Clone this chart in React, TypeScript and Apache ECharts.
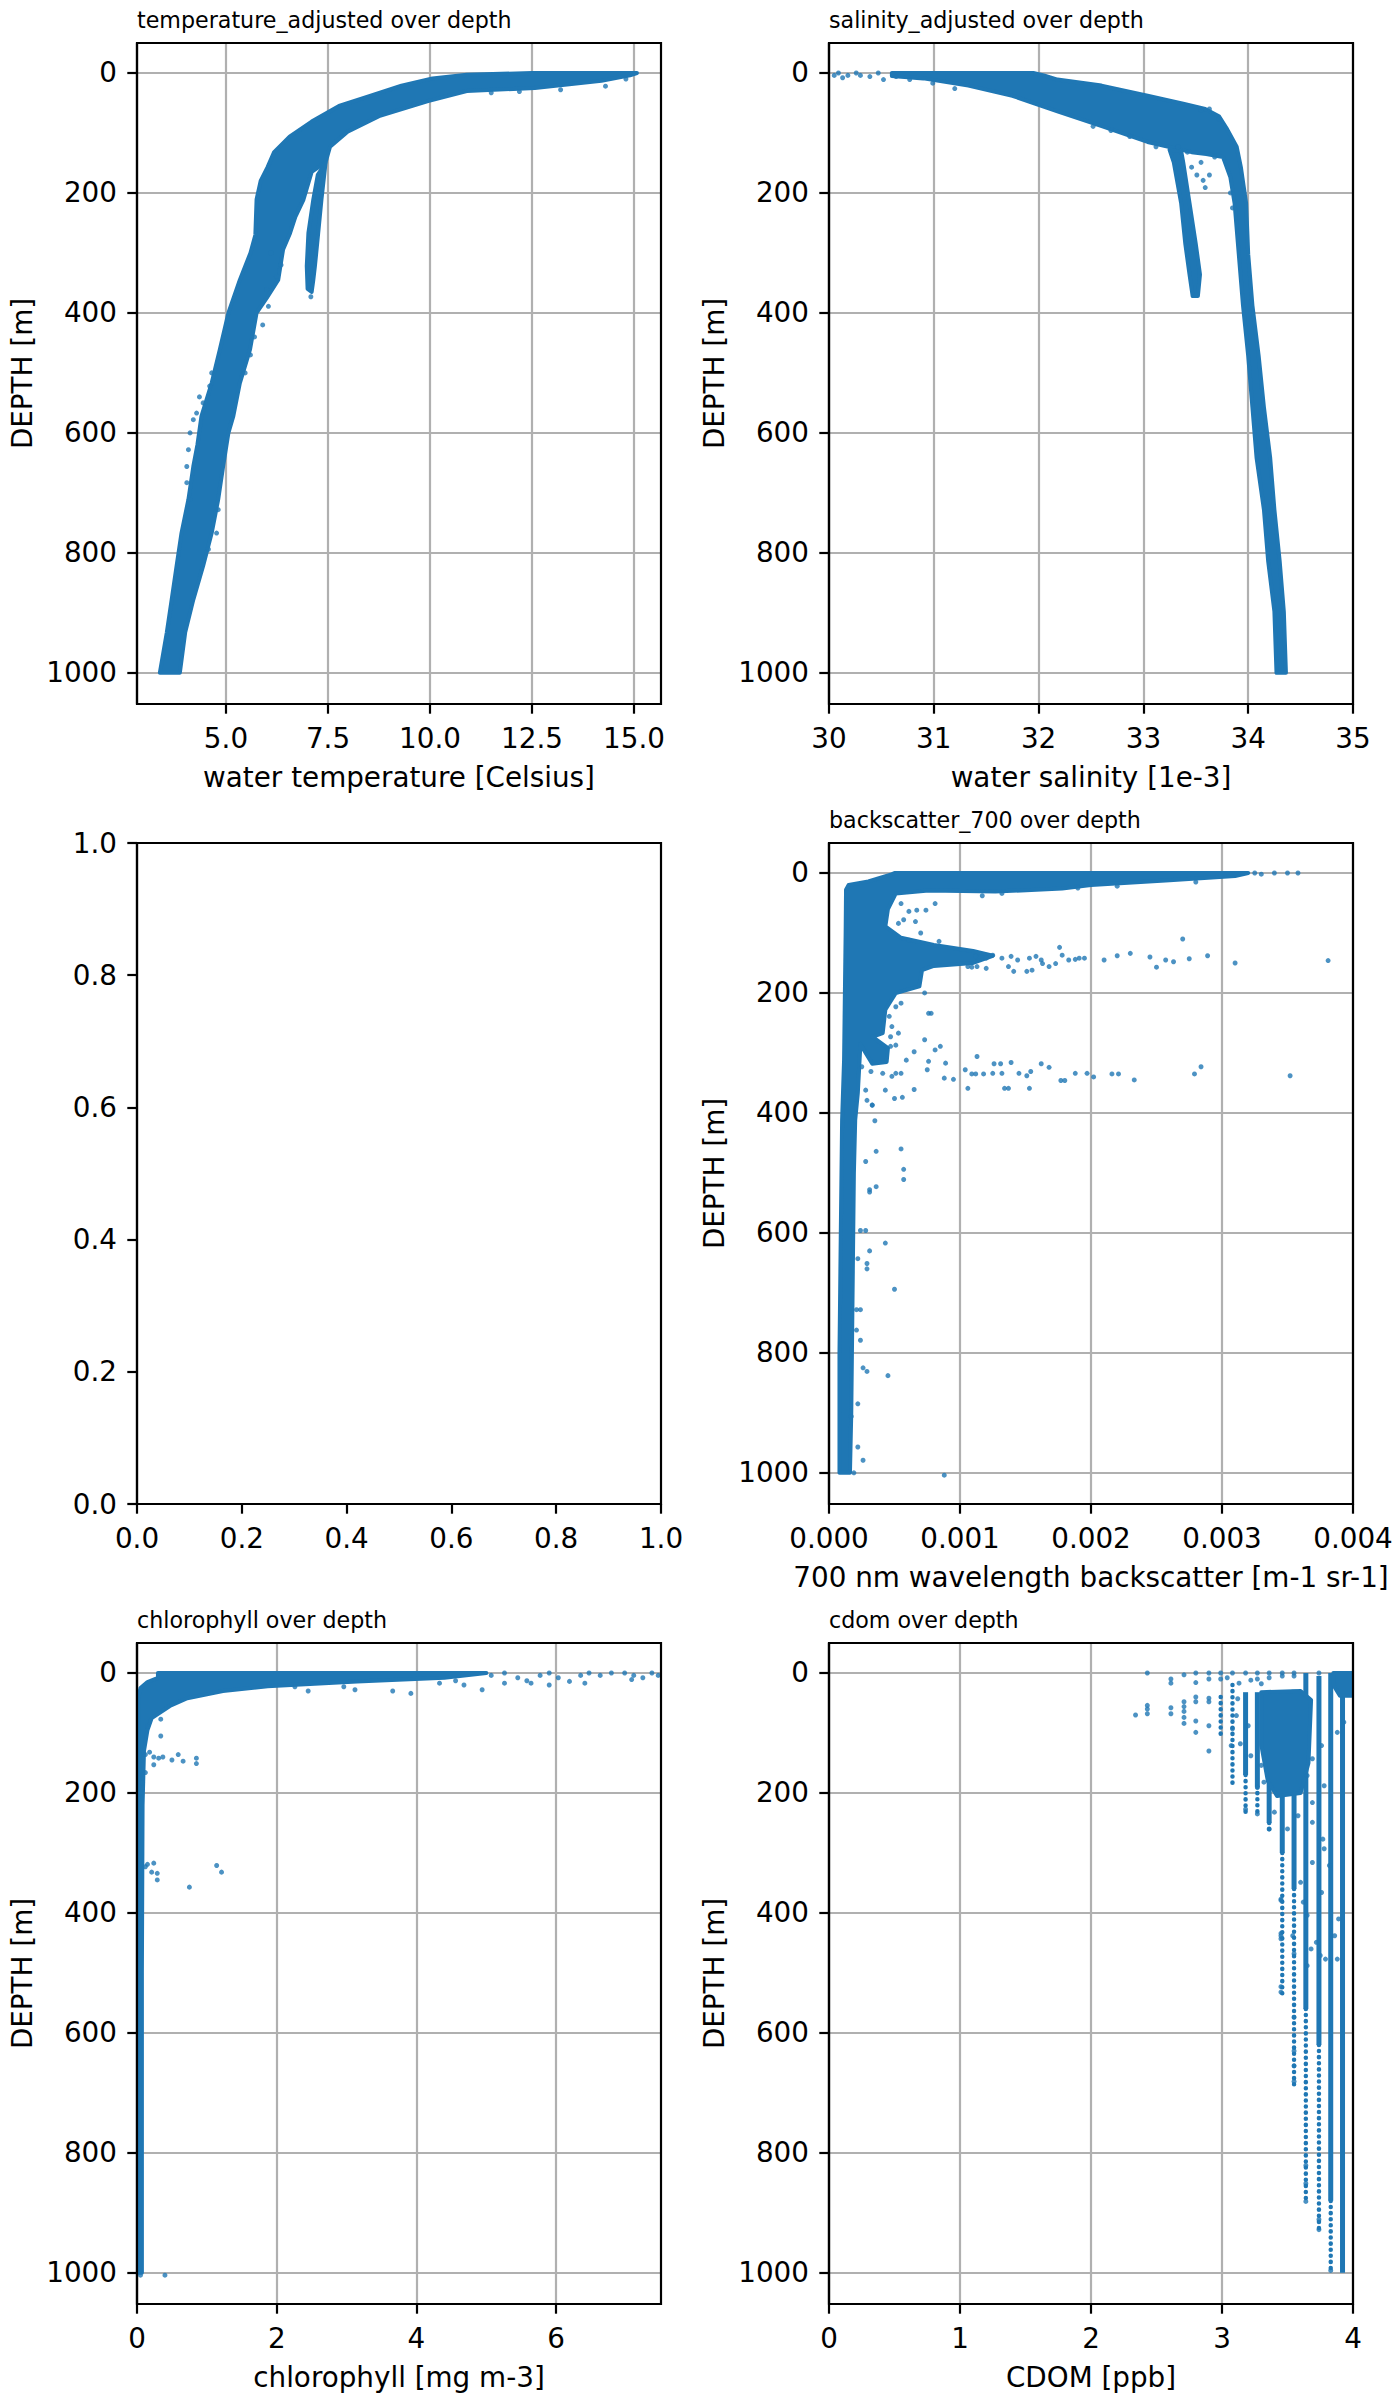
import { useEffect, useRef } from 'react'
import * as echarts from 'echarts'

const BLUE = '#1f77b4'
const FONT = 'DejaVu Sans'

// tick values
const depthTicks = [0, 200, 400, 600, 800, 1000]
const tempTicks = [5, 7.5, 10, 12.5, 15]
const salTicks = [30, 31, 32, 33, 34, 35]
const unitTicks = [0, 0.2, 0.4, 0.6, 0.8, 1]
const bsTicks = [0, 0.001, 0.002, 0.003, 0.004]
const chlTicks = [0, 2, 4, 6]
const cdomTicks = [0, 1, 2, 3, 4]

// temperature (Celsius, depth m): dense band outlines + loose points
const tempBand = [
  [3.38, 1000], [3.55, 933], [3.67, 878], [3.79, 822], [3.91, 767], [4.08, 711], [4.2, 656], [4.3, 620],
  [4.4, 572], [4.65, 517], [4.85, 461], [5.06, 400], [5.34, 345], [5.6, 300], [5.72, 270], [5.75, 211],
  [5.85, 180], [6.02, 157], [6.18, 132], [6.56, 106], [7.1, 81], [7.77, 55], [8.53, 38], [9.3, 21],
  [10.06, 9], [10.9, 3], [12.5, 0], [15.07, 0], [14.9, 4], [14.2, 13], [12.57, 25], [10.9, 30], [9.95, 47],
  [8.75, 72], [7.98, 98], [7.55, 123], [7.44, 149], [7.1, 165], [6.9, 211], [6.7, 240], [6.57, 267],
  [6.4, 294], [6.28, 345], [6.0, 375], [5.75, 400], [5.59, 461], [5.34, 517], [5.18, 572], [5.06, 600],
  [4.93, 656], [4.81, 711], [4.65, 767], [4.44, 822], [4.2, 878], [4.0, 933], [3.87, 1000],
]
const tempBranch = [
  [7.44, 150], [7.34, 211], [7.26, 267], [7.18, 322], [7.14, 345], [7.1, 365], [7.0, 360], [6.98, 322],
  [7.02, 267], [7.14, 211], [7.25, 170],
]
const tempDots = [
  [4.44, 550], [4.28, 567], [4.2, 578], [4.12, 600], [4.08, 628], [4.04, 656], [4.04, 683], [4.12, 711],
  [4.65, 500], [4.6, 522], [4.35, 540], [6.0, 361], [6.04, 389], [6.24, 339], [5.47, 500], [4.81, 728],
  [4.77, 767], [4.57, 794], [5.9, 420], [5.7, 440], [6.1, 300], [6.35, 320], [5.6, 470], [12.19, 31],
  [14.3, 22], [13.2, 28], [11.5, 33], [9.6, 52], [14.8, 10], [7.08, 373],
]

// salinity (1e-3, depth m)
const salBand = [
  [30.6, 0], [31.95, 0], [32.05, 4], [32.18, 11], [32.6, 21], [33.04, 38], [33.38, 51], [33.59, 60],
  [33.72, 72], [33.8, 94], [33.89, 123], [33.93, 157], [33.98, 217], [34.0, 302], [34.04, 387], [34.1, 472],
  [34.15, 557], [34.21, 642], [34.25, 728], [34.3, 813], [34.34, 898], [34.36, 1000], [34.27, 1000],
  [34.25, 898], [34.19, 813], [34.15, 728], [34.08, 642], [34.04, 557], [34.0, 472], [33.95, 387],
  [33.91, 302], [33.87, 217], [33.83, 174], [33.76, 140], [33.6, 135], [33.46, 132], [33.04, 115],
  [32.61, 89], [32.18, 64], [31.75, 38], [31.33, 21], [30.9, 9], [30.6, 5],
]
const salBranch = [
  [33.25, 128], [33.36, 130], [33.38, 149], [33.44, 217], [33.5, 285], [33.54, 336], [33.52, 372],
  [33.47, 372], [33.44, 336], [33.4, 285], [33.36, 217], [33.29, 149],
]
const salDots = [
  [30.05, 4], [30.09, 0], [30.18, 4], [30.3, 4], [30.39, 6], [30.47, 0], [30.52, 11], [30.26, 0],
  [30.13, 8], [30.64, 6], [30.77, 11], [30.99, 17], [31.2, 26], [33.59, 191], [33.57, 179], [33.51, 170],
  [33.46, 157], [33.63, 170], [33.55, 149], [33.68, 140], [33.42, 132], [33.12, 123], [33.33, 123],
  [32.87, 106], [32.69, 96], [32.52, 89], [33.85, 225], [33.83, 200], [33.63, 60], [33.55, 62], [33.72, 77],
]

// backscatter 700 nm (m-1 sr-1, depth m)
const bsBand = [
  [0.15e-3, 20], [0.3e-3, 14], [0.47e-3, 3], [0.5e-3, 0], [3.2e-3, 0], [3.1e-3, 5], [2.6e-3, 12],
  [2.0e-3, 20], [1.78e-3, 26], [1.27e-3, 31], [0.76e-3, 29], [0.51e-3, 34], [0.45e-3, 60], [0.43e-3, 89],
  [0.55e-3, 108], [0.8e-3, 120], [1.1e-3, 130], [1.25e-3, 138], [1.1e-3, 150], [0.8e-3, 155],
  [0.71e-3, 162], [0.69e-3, 189], [0.51e-3, 200], [0.43e-3, 228], [0.41e-3, 267], [0.33e-3, 273],
  [0.45e-3, 292], [0.44e-3, 315], [0.33e-3, 318], [0.28e-3, 300], [0.24e-3, 285], [0.22e-3, 367],
  [0.2e-3, 412], [0.19e-3, 500], [0.18e-3, 700], [0.17e-3, 900], [0.16e-3, 1000], [0.08e-3, 1000],
  [0.08e-3, 800], [0.09e-3, 600], [0.1e-3, 412], [0.115e-3, 312], [0.127e-3, 100], [0.13e-3, 28],
]
const bsDots = [
  [0.55e-3, 51], [0.61e-3, 64], [0.67e-3, 62], [0.74e-3, 62], [0.57e-3, 78], [0.66e-3, 81], [0.7e-3, 100],
  [0.84e-3, 114], [0.61e-3, 112], [0.81e-3, 51], [1.17e-3, 38], [1.32e-3, 34], [0.53e-3, 84],
  [1.12e-3, 139], [1.2e-3, 142], [1.25e-3, 137], [1.32e-3, 142], [1.39e-3, 139], [1.44e-3, 145],
  [1.37e-3, 156], [1.41e-3, 164], [1.53e-3, 142], [1.58e-3, 139], [1.62e-3, 145], [1.68e-3, 156],
  [1.73e-3, 151], [1.76e-3, 124], [1.78e-3, 137], [1.83e-3, 145], [1.88e-3, 144], [1.91e-3, 142],
  [1.51e-3, 164], [1.55e-3, 162], [1.63e-3, 151], [1.2e-3, 159], [1.13e-3, 156], [1.09e-3, 157],
  [1.06e-3, 156], [2.1e-3, 145], [2.2e-3, 138], [2.3e-3, 134], [2.5e-3, 157], [2.57e-3, 145],
  [2.63e-3, 148], [2.7e-3, 110], [2.75e-3, 143], [2.89e-3, 138], [3.1e-3, 150], [3.81e-3, 146],
  [2.45e-3, 140], [1.95e-3, 142],
  [0.76e-3, 234], [0.73e-3, 278], [0.81e-3, 295], [0.85e-3, 289], [1.13e-3, 306], [0.89e-3, 317],
  [0.76e-3, 314], [0.75e-3, 328], [0.88e-3, 342], [0.95e-3, 344], [1.04e-3, 328], [1.06e-3, 359],
  [1.09e-3, 335], [1.12e-3, 335], [1.18e-3, 335], [1.25e-3, 334], [1.26e-3, 318], [1.31e-3, 318],
  [1.32e-3, 334], [1.34e-3, 359], [1.37e-3, 359], [1.39e-3, 316], [1.45e-3, 334], [1.51e-3, 338],
  [1.53e-3, 359], [1.54e-3, 331], [1.62e-3, 318], [1.68e-3, 324], [1.77e-3, 346], [1.8e-3, 346],
  [1.88e-3, 334], [1.97e-3, 334], [0.65e-3, 361], [0.56e-3, 374], [0.5e-3, 376], [0.33e-3, 387],
  [0.65e-3, 298], [0.59e-3, 312], [0.55e-3, 334], [0.51e-3, 334], [0.48e-3, 339], [0.43e-3, 362],
  [0.41e-3, 334], [0.28e-3, 362], [0.32e-3, 331], [0.25e-3, 323], [0.51e-3, 287], [0.47e-3, 273],
  [0.53e-3, 267], [0.46e-3, 239], [0.55e-3, 217], [0.51e-3, 223], [0.48e-3, 256], [0.47e-3, 289],
  [0.73e-3, 200], [0.78e-3, 234], [2.02e-3, 340], [2.16e-3, 335], [2.21e-3, 335], [2.33e-3, 345],
  [2.79e-3, 335], [2.84e-3, 323], [3.52e-3, 338],
  [0.55e-3, 460], [0.57e-3, 494], [0.57e-3, 511], [0.36e-3, 523], [0.31e-3, 532], [0.43e-3, 617],
  [0.5e-3, 694], [0.31e-3, 630], [0.29e-3, 651], [0.24e-3, 728], [0.21e-3, 762], [0.45e-3, 838],
  [0.29e-3, 831], [0.26e-3, 825], [0.17e-3, 906], [0.26e-3, 979], [0.19e-3, 1000], [0.88e-3, 1004],
  [0.22e-3, 957], [0.35e-3, 413], [0.29e-3, 379], [0.33e-3, 387], [0.36e-3, 464], [0.28e-3, 481],
  [0.31e-3, 528], [0.24e-3, 596], [0.28e-3, 596], [0.22e-3, 643], [0.29e-3, 660], [0.21e-3, 728],
  [0.24e-3, 779], [0.22e-3, 885], [3.25e-3, 0], [3.4e-3, 0], [3.5e-3, 0], [3.58e-3, 0], [3.3e-3, 2],
  [2.8e-3, 15], [2.2e-3, 22], [1.9e-3, 25],
]

// chlorophyll (mg m-3, depth m)
const chlBand = [
  [0.3, 0], [5.0, 0], [4.4, 8], [3.15, 14], [1.87, 22], [1.23, 30], [0.72, 42], [0.47, 55], [0.21, 75],
  [0.15, 95], [0.1, 130], [0.08, 220], [0.07, 500], [0.07, 1000], [0.02, 1000], [0.02, 300], [0.02, 40],
  [0.05, 25], [0.15, 15], [0.3, 8],
]
const chlDots = [
  [5.07, 4], [5.26, 0], [5.45, 8], [5.58, 13], [5.77, 4], [5.9, 0], [6.03, 8], [6.19, 14], [6.35, 4],
  [6.47, 0], [6.63, 4], [6.79, 0], [6.98, 0], [7.11, 4], [7.24, 8], [7.37, 0], [7.46, 4], [7.08, 11],
  [5.64, 17], [6.41, 17], [5.9, 20], [4.94, 28], [4.68, 20], [3.92, 34], [3.66, 30], [3.12, 28],
  [2.96, 23], [2.45, 30], [2.26, 23], [5.26, 17], [4.33, 17], [4.56, 13],
  [0.34, 77], [0.34, 105], [0.15, 89], [0.18, 132], [0.24, 140], [0.31, 142], [0.37, 140], [0.5, 145],
  [0.59, 136], [0.66, 147], [0.85, 142], [0.85, 151], [0.12, 136], [0.24, 153], [0.15, 319], [0.24, 317],
  [0.12, 323], [0.21, 332], [0.29, 334], [0.29, 345], [1.14, 321], [1.21, 332], [0.75, 357], [0.4, 1004],
  [0.05, 1004], [0.12, 166], [0.08, 183],
]

// CDOM (ppb, depth m): quantised columns [value, from, to]
const cdomSolid = [
  [3.18, 32, 170], [3.27, 32, 190], [3.36, 30, 250], [3.46, 30, 300], [3.55, 28, 360], [3.64, 0, 560],
  [3.74, 5, 620], [3.83, 0, 880], [3.92, 0, 1000],
]
const cdomSparse = [
  [2.99, 40, 110], [3.08, 20, 185], [3.18, 170, 232], [3.27, 190, 240], [3.36, 250, 268], [3.46, 300, 540],
  [3.55, 360, 695], [3.64, 560, 885], [3.74, 620, 932], [3.83, 880, 1000],
]
const cdomBlob = [
  [3.3, 32], [3.6, 30], [3.68, 45], [3.66, 150], [3.6, 200], [3.42, 205], [3.35, 180], [3.3, 120],
]
const cdomCorner = [[3.85, 0], [4.0, 0], [4.0, 38], [3.9, 38], [3.85, 20]]
const cdomDots = [
  [2.43, 0], [2.43, 54], [2.43, 60], [2.43, 68], [2.34, 70], [2.61, 10], [2.61, 17], [2.61, 58], [2.61, 68],
  [2.71, 3], [2.71, 48], [2.71, 56], [2.71, 64], [2.71, 74], [2.71, 84], [2.8, 0], [2.8, 16], [2.8, 40],
  [2.8, 48], [2.8, 80], [2.8, 99], [2.9, 0], [2.9, 10], [2.9, 42], [2.9, 48], [2.9, 88], [2.9, 130],
  [2.99, 0], [2.99, 10], [3.08, 0], [3.04, 8], [3.13, 17], [3.22, 12], [3.3, 18], [3.18, 0], [3.27, 0],
  [3.27, 10], [3.36, 0], [3.36, 8], [3.46, 0], [3.46, 5], [3.55, 0], [3.55, 5], [3.74, 0],
  [3.12, 43], [3.11, 71], [3.08, 93], [3.07, 121], [3.14, 118], [3.2, 88], [3.22, 138], [3.3, 154],
  [3.32, 182], [3.27, 191], [3.65, 171], [3.69, 143], [3.76, 121], [3.78, 188], [3.88, 99], [3.93, 82],
  [3.18, 227], [3.27, 235], [3.36, 260], [3.4, 232], [3.5, 260], [3.58, 238], [3.69, 216], [3.69, 249],
  [3.77, 277], [3.78, 293], [3.69, 316], [3.6, 349], [3.62, 382], [3.65, 404], [3.76, 366], [3.82, 321],
  [3.72, 449], [3.79, 477], [3.88, 477], [3.89, 410], [3.45, 377], [3.45, 438], [3.54, 438], [3.55, 468],
  [3.65, 488], [3.68, 460], [3.75, 471], [3.86, 438], [3.45, 523], [3.45, 532], [3.55, 574], [3.55, 630],
  [3.55, 655], [3.55, 681], [3.64, 821], [3.64, 851], [3.64, 881], [3.74, 911], [3.74, 928], [3.83, 996],
  [3.45, 379], [3.45, 434], [3.45, 443],
]

const W = 524
const H = 661
const TICK_FS = 27.8
const TITLE_FS = 22.2

type Panel = {
  left: number
  top: number
  title?: string
  xName?: string
  xMin: number
  xMax: number
  xTicks: number[]
  digits: number
  empty?: boolean
}

const panels: Panel[] = [
  { left: 137, top: 43, title: 'temperature_adjusted over depth', xName: 'water temperature [Celsius]', xMin: 2.82, xMax: 15.66, xTicks: tempTicks, digits: 1 },
  { left: 829, top: 43, title: 'salinity_adjusted over depth', xName: 'water salinity [1e-3]', xMin: 30, xMax: 35, xTicks: salTicks, digits: 0 },
  { left: 137, top: 843, xMin: 0, xMax: 1, xTicks: unitTicks, digits: 1, empty: true },
  { left: 829, top: 843, title: 'backscatter_700 over depth', xName: '700 nm wavelength backscatter [m-1 sr-1]', xMin: 0, xMax: 0.004, xTicks: bsTicks, digits: 3 },
  { left: 137, top: 1643, title: 'chlorophyll over depth', xName: 'chlorophyll [mg m-3]', xMin: 0, xMax: 7.5, xTicks: chlTicks, digits: 0 },
  { left: 829, top: 1643, title: 'cdom over depth', xName: 'CDOM [ppb]', xMin: 0, xMax: 4, xTicks: cdomTicks, digits: 0 },
]

const axisLine = { show: true, onZero: false, lineStyle: { color: '#000', width: 2.2 } }
const gridLine = { lineStyle: { color: '#b0b0b0', width: 2.2 } }
const nameStyle = { fontFamily: FONT, fontSize: TICK_FS, color: '#000' }

function polygons(gi: number, polys: number[][][]) {
  return {
    type: 'custom',
    xAxisIndex: gi,
    yAxisIndex: gi,
    clip: true,
    silent: true,
    data: polys.map((p) => p[0]),
    renderItem: (params: any, api: any) => ({
      type: 'polygon',
      shape: { points: polys[params.dataIndex].map((pt) => api.coord(pt)) },
      style: { fill: BLUE, stroke: BLUE, lineWidth: 4, lineJoin: 'round' },
    }),
  }
}

function dots(gi: number, data: number[][]) {
  return {
    type: 'scatter',
    xAxisIndex: gi,
    yAxisIndex: gi,
    data,
    symbolSize: 5,
    itemStyle: { color: BLUE },
    silent: true,
    clip: true,
  }
}

function columns(gi: number, data: number[][], sparse: boolean) {
  return {
    type: 'custom',
    xAxisIndex: gi,
    yAxisIndex: gi,
    clip: true,
    silent: true,
    data,
    encode: { x: 0, y: [1, 2] },
    renderItem: (_params: any, api: any) => {
      const a = api.coord([api.value(0), api.value(1)])
      const b = api.coord([api.value(0), api.value(2)])
      return {
        type: 'line',
        shape: { x1: a[0], y1: a[1], x2: b[0], y2: b[1] },
        style: sparse
          ? { stroke: BLUE, lineWidth: 4.5, lineCap: 'round', lineDash: [0.1, 6] }
          : { stroke: BLUE, lineWidth: 5, lineCap: 'butt' },
      }
    },
  }
}

export default function App() {
  const ref = useRef<HTMLDivElement | null>(null)

  useEffect(() => {
    if (!ref.current) return
    const chart = echarts.init(ref.current, null, { renderer: 'svg' })

    const option: any = {
      animation: false,
      backgroundColor: '#fff',
      grid: panels.map((p) => ({ left: p.left, top: p.top, width: W, height: H, outerBoundsMode: 'none' })),
      xAxis: panels.map((p, i) => ({
        type: 'value',
        gridIndex: i,
        min: p.xMin,
        max: p.xMax,
        position: 'bottom',
        axisLine,
        axisTick: { show: true, length: 9.7, customValues: p.xTicks, lineStyle: { color: '#000', width: 2.2 } },
        axisLabel: {
          customValues: p.xTicks,
          formatter: (v: number) => Number(v).toFixed(p.digits),
          fontFamily: FONT,
          fontSize: TICK_FS,
          color: '#000',
          margin: 20,
        },
        splitLine: { show: !p.empty, ...gridLine },
        name: p.xName ?? '',
        nameLocation: 'middle',
        nameGap: 59,
        nameTextStyle: nameStyle,
      })),
      yAxis: panels.map((p, i) => {
        const ticks = p.empty ? unitTicks : depthTicks
        return {
          type: 'value',
          gridIndex: i,
          min: p.empty ? 0 : -50,
          max: p.empty ? 1 : 1052,
          inverse: !p.empty,
          axisLine,
          axisTick: { show: true, length: 9.7, customValues: ticks, lineStyle: { color: '#000', width: 2.2 } },
          axisLabel: {
            customValues: ticks,
            formatter: (v: number) => (p.empty ? Number(v).toFixed(1) : String(v)),
            fontFamily: FONT,
            fontSize: TICK_FS,
            color: '#000',
            margin: 20,
          },
          splitLine: { show: !p.empty, ...gridLine },
          name: p.empty ? '' : 'DEPTH [m]',
          nameLocation: 'middle',
          nameGap: 101,
          nameTextStyle: nameStyle,
        }
      }),
      series: [
        polygons(0, [tempBand, tempBranch]),
        dots(0, tempDots),
        polygons(1, [salBand, salBranch]),
        dots(1, salDots),
        polygons(3, [bsBand]),
        dots(3, bsDots),
        polygons(4, [chlBand]),
        dots(4, chlDots),
        columns(5, cdomSolid, false),
        columns(5, cdomSparse, true),
        polygons(5, [cdomBlob, cdomCorner]),
        dots(5, cdomDots),
      ],
      graphic: [
        ...panels.map((p) => ({
          type: 'rect',
          z: 100,
          silent: true,
          shape: { x: p.left, y: p.top, width: W, height: H },
          style: { fill: 'none', stroke: '#000', lineWidth: 2.2 },
        })),
        ...panels
          .filter((p) => p.title)
          .map((p) => ({
            type: 'text',
            z: 100,
            silent: true,
            x: p.left,
            y: p.top - 12,
            style: {
              text: p.title,
              fontFamily: FONT,
              fontSize: TITLE_FS,
              fill: '#000',
              align: 'left',
              verticalAlign: 'bottom',
            },
          })),
      ],
    }

    chart.setOption(option)
    return () => chart.dispose()
  }, [])

  return <div ref={ref} style={{ position: 'absolute', left: 0, top: 0, width: 1400, height: 2400 }} />
}
